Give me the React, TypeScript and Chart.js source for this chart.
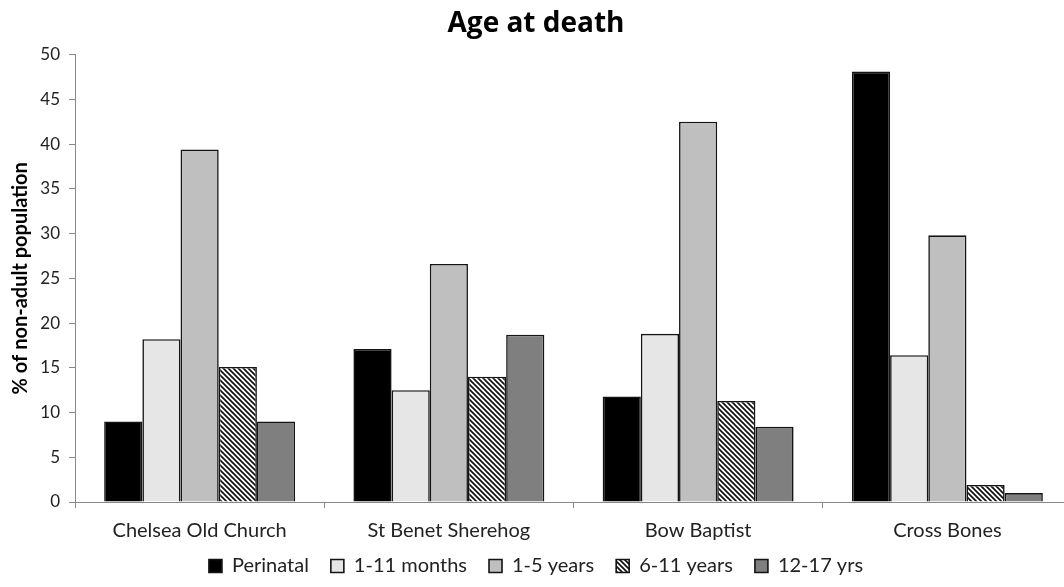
import { useEffect, useRef } from "react";
import { Chart, registerables } from "chart.js";

Chart.register(...registerables);

const categories = ["Chelsea Old Church", "St Benet Sherehog", "Bow Baptist", "Cross Bones"];
const seriesLabels = ["Perinatal", "1-11 months", "1-5 years", "6-11 years", "12-17 yrs"];
const perinatal = [9.0, 17.1, 11.8, 48.1];
const months1to11 = [18.2, 12.5, 18.8, 16.4];
const years1to5 = [39.4, 26.6, 42.5, 29.8];
const years6to11 = [15.1, 14.0, 11.3, 1.9];
const years12to17 = [9.0, 18.7, 8.4, 1.0];
const yMin = 0;
const yMax = 50;
const yStep = 5;

const FONT = "Lato, 'Open Sans', sans-serif";
const TITLE_FONT = "'Open Sans', Lato, sans-serif";
const LEGEND_PADDING = 22;
const LEGEND_FONT = 20;
const LEGEND_TEXT_CENTER = 566;

function makeHatch(): CanvasPattern | string {
  const s = 5;
  const c = document.createElement("canvas");
  c.width = s;
  c.height = s;
  const ctx = c.getContext("2d");
  if (!ctx) return "#888";
  ctx.fillStyle = "#ffffff";
  ctx.fillRect(0, 0, s, s);
  ctx.strokeStyle = "#111111";
  ctx.lineWidth = 1.7;
  for (const o of [-s, 0, s]) {
    ctx.beginPath();
    ctx.moveTo(o - 1, -1);
    ctx.lineTo(o + s + 1, s + 1);
    ctx.stroke();
  }
  const p = ctx.createPattern(c, "repeat");
  return p || "#888";
}

const legendShift = {
  id: "legendShift",
  afterLayout(chart: any) {
    const lg = chart.legend;
    if (!lg) return;
    const h = lg.height;
    lg.top = LEGEND_TEXT_CENTER - LEGEND_PADDING - LEGEND_FONT / 2;
    lg.bottom = lg.top + h;
  },
};

export default function App() {
  const ref = useRef<HTMLCanvasElement | null>(null);

  useEffect(() => {
    if (!ref.current) return;
    const hatch = makeHatch();
    const fills: (string | CanvasPattern)[] = ["#000000", "#e6e6e6", "#bfbfbf", hatch, "#7f7f7f"];
    const values = [perinatal, months1to11, years1to5, years6to11, years12to17];
    const chart = new Chart(ref.current, {
      type: "bar",
      data: {
        labels: categories,
        datasets: values.map((v, i) => ({
          label: seriesLabels[i],
          data: v,
          backgroundColor: fills[i] as any,
          borderColor: "#141414",
          borderWidth: 1.6,
          borderSkipped: "bottom" as const,
          barPercentage: 1,
          categoryPercentage: 0.766,
        })),
      },
      plugins: [legendShift],
      options: {
        responsive: false,
        animation: false,
        layout: { padding: { left: 0, right: 6, top: 0, bottom: 0 } },
        plugins: {
          title: {
            display: true,
            text: "Age at death",
            color: "#000",
            font: { family: TITLE_FONT, size: 28, weight: "bold" },
            padding: { top: 7, bottom: 14 },
          },
          legend: {
            position: "bottom",
            maxHeight: 44,
            labels: {
              color: "#222",
              font: { family: FONT, size: LEGEND_FONT },
              boxWidth: 13,
              boxHeight: 13,
              padding: LEGEND_PADDING,
            },
          },
          tooltip: { enabled: false },
        },
        scales: {
          x: {
            offset: true,
            grid: {
              display: true,
              offset: true,
              drawOnChartArea: false,
              drawTicks: true,
              tickLength: 6,
              color: "#888",
            },
            border: { color: "#888", width: 1 },
            ticks: { color: "#222", font: { family: FONT, size: 20 }, padding: 11 },
            afterFit: (s: any) => {
              s.height = 41;
            },
          },
          y: {
            min: yMin,
            max: yMax,
            ticks: { stepSize: yStep, color: "#222", font: { family: FONT, size: 17 }, padding: 9 },
            grid: { drawOnChartArea: false, drawTicks: true, tickLength: 6, color: "#888" },
            border: { color: "#888", width: 1 },
            title: {
              display: true,
              text: "% of non-adult population",
              color: "#000",
              font: { family: FONT, size: 20, weight: "bold" },
              padding: { top: 9, bottom: 4 },
            },
            afterFit: (s: any) => {
              s.width = 75;
            },
          },
        },
      },
    });
    return () => chart.destroy();
  }, []);

  return (
    <div
      style={{
        position: "fixed",
        left: 0,
        top: 0,
        width: "100vw",
        height: "100vh",
        overflow: "hidden",
        background: "#fff",
      }}
    >
      <canvas ref={ref} width={1078} height={587} style={{ display: "block", width: 1078, height: 587 }} />
    </div>
  );
}
